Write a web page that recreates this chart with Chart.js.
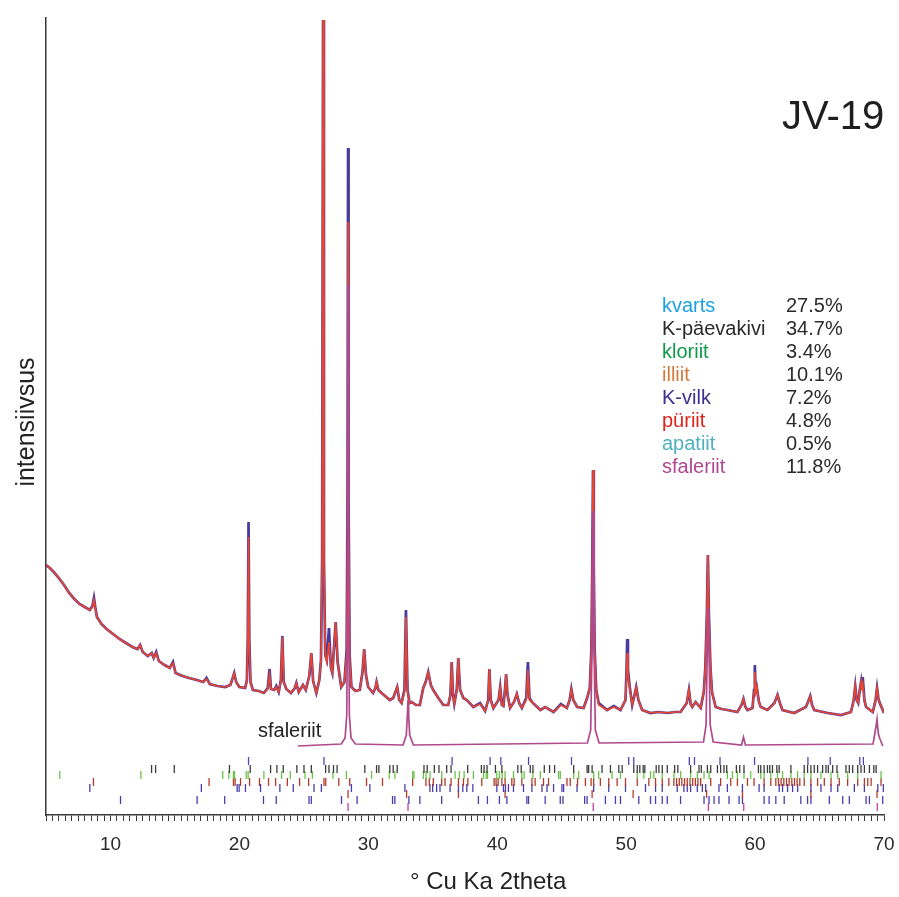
<!DOCTYPE html>
<html>
<head>
<meta charset="utf-8">
<title>JV-19</title>
<script src="https://cdn.jsdelivr.net/npm/chart.js@4.4.1/dist/chart.umd.min.js"></script>
<style>
  html,body{margin:0;padding:0;background:#fff;}
  #wrap{width:899px;height:897px;}
</style>
</head>
<body>
<div id="wrap"><canvas id="xrd" width="899" height="897"></canvas></div>
<script>
// ======================================
// DATA
// ======================================
const sampleName = 'JV-19';

// measured (blue) and calculated (red) pattern, 2theta in degrees
const twoTheta = [
  5.00,5.30,5.60,6.00,6.40,6.80,7.20,7.60,8.00,8.40,8.60,8.72,8.82,8.95,9.30,9.70,
  10.20,10.70,11.20,11.70,12.10,12.30,12.50,12.90,13.20,13.35,13.55,13.75,14.20,14.60,14.85,15.05,
  15.60,16.10,16.70,17.20,17.45,17.70,18.30,18.90,19.30,19.48,19.60,19.75,20.00,20.45,20.58,20.65,
  20.71,20.77,20.86,21.05,21.50,21.90,22.20,22.34,22.45,22.70,22.86,23.05,23.22,23.33,23.44,23.64,
  24.00,24.30,24.42,24.60,24.93,25.15,25.42,25.58,25.72,25.97,26.20,26.33,26.42,26.49,26.56,26.66,
  26.78,26.95,27.10,27.21,27.35,27.47,27.62,27.90,28.15,28.32,28.39,28.43,28.47,28.55,28.69,29.00,
  29.34,29.55,29.68,29.82,29.99,30.37,30.55,30.64,30.78,31.03,31.67,31.93,32.24,32.40,32.58,32.80,
  32.92,33.04,33.20,33.36,33.70,34.00,34.26,34.45,34.65,34.85,35.04,35.43,35.82,36.20,36.37,36.47,
  36.57,36.67,36.86,36.98,37.12,37.37,37.64,38.15,38.67,39.06,39.30,39.39,39.50,39.70,40.10,40.23,
  40.36,40.48,40.60,40.69,40.80,41.00,41.30,41.52,41.70,41.91,42.25,42.38,42.50,42.69,43.34,43.72,
  44.37,44.94,45.40,45.62,45.75,45.90,46.20,46.70,46.97,47.18,47.30,47.37,47.43,47.49,47.56,47.68,
  47.87,48.52,49.04,49.56,49.95,50.03,50.08,50.14,50.28,50.47,50.65,50.78,50.95,51.24,51.89,52.50,
  53.19,53.80,54.22,54.70,54.87,55.00,55.13,55.39,55.78,56.02,56.14,56.26,56.34,56.42,56.54,56.66,
  56.94,57.40,57.85,58.63,58.95,59.10,59.25,59.41,59.80,59.92,59.98,60.05,60.13,60.30,60.44,60.96,
  61.50,61.74,61.95,62.13,63.03,63.94,64.10,64.28,64.42,64.59,65.63,66.66,67.44,67.65,67.77,67.88,
  68.00,68.12,68.22,68.28,68.35,68.48,68.61,69.13,69.35,69.46,69.56,69.64,70.00
];

const measured = [
  250,247,243,237,230,222,216,211,208,205,209,217,208,198,191,186,
  181,176,172,168,166,170,163,159,162,157,163,154,150,147,153,142,
  139,137,135,133,137,131,129,128,130,137,142,133,128,127,135,175,
  293,175,133,125,124,122,127,146,126,125,129,123,135,179,133,126,
  122,127,132,123,130,125,139,162,134,122,135,155,255,795,255,160,
  155,187,147,142,170,193,153,128,133,165,315,667,315,160,128,124,
  125,143,166,140,128,122,127,133,125,122,115,117,128,115,112,125,
  205,125,112,113,110,110,127,133,143,130,125,117,110,110,120,153,
  120,111,125,157,125,117,115,108,112,104,115,146,115,107,115,128,
  110,109,125,141,120,107,113,121,112,107,117,153,117,113,105,108,
  103,111,107,115,126,115,108,107,117,127,165,245,345,245,165,125,
  112,105,109,105,115,145,176,145,128,110,120,128,115,105,102,103,
  102,103,103,112,125,111,108,113,107,123,147,200,260,200,147,123,
  108,106,105,103,110,116,108,105,107,125,150,125,128,113,108,105,
  112,120,111,105,102,108,113,119,110,105,102,100,103,115,129,115,
  112,125,133,125,138,115,108,103,115,127,117,113,102
];

const calculated = [
  250,247,243,237,230,222,216,211,208,205,208,215,207,198,191,186,
  181,176,172,168,166,170,163,159,162,157,162,154,150,147,152,142,
  139,137,135,133,136,131,129,128,130,137,142,133,128,127,134,170,
  278,170,133,125,124,122,126,140,126,125,128,123,135,178,133,126,
  122,127,132,123,130,125,139,162,134,122,135,155,255,795,255,160,
  153,173,147,142,170,193,153,128,133,160,275,593,275,157,128,124,
  125,143,166,140,128,122,127,133,125,122,115,117,128,115,112,123,
  198,123,112,113,110,110,127,133,143,130,125,117,110,110,120,153,
  120,111,125,157,125,117,115,108,111,104,115,146,115,107,115,128,
  110,109,125,141,120,107,113,121,112,107,115,145,115,113,105,108,
  103,110,107,115,126,115,108,107,117,127,165,245,345,245,165,125,
  110,105,108,105,115,140,162,140,127,110,120,128,115,105,102,103,
  102,103,103,112,125,111,108,113,107,123,147,200,260,200,147,123,
  108,106,105,103,110,116,108,105,107,123,143,123,128,113,108,105,
  112,120,111,105,102,108,113,119,110,105,102,100,103,115,129,115,
  112,125,133,125,131,115,108,103,115,127,117,113,102
];

// sphalerite reference profile, drawn below the pattern
const sphaleriteTheta = [
  24.54,27.90,28.20,28.33,28.39,28.43,28.47,28.53,28.66,29.00,32.70,32.95,33.03,33.08,33.13,33.21,
  33.50,47.00,47.25,47.36,47.43,47.50,47.61,47.90,56.00,56.20,56.30,56.35,56.41,56.52,56.75,58.95,
  59.10,59.25,69.15,69.36,69.46,69.55,69.66,69.90
];
const sphaleriteProfile = [
  69,71,77,100,215,530,215,100,77,71,70,80,100,115,100,80,
  70,72,85,175,304,175,85,72,73,90,175,207,175,90,73,70,
  78,70,71,87,96,82,77,69
];

// phase table
const phaseNames = ['kvarts','K-päevakivi','kloriit','illiit','K-vilk','püriit','apatiit','sfaleriit'];
const phaseShares = ['27.5%','34.7%','3.4%','10.1%','7.2%','4.8%','0.5%','11.8%'];

// reflection positions (2theta) for each phase
const quartzRefl = [20.71,26.56,36.50,39.45,40.28,42.43,45.76,50.20,50.59,54.90,55.30,57.28,59.96,64.10,65.83,68.12,68.40];
const feldsparRefl = [13.19,13.50,14.95,19.23,20.84,22.42,22.91,23.40,24.46,25.01,25.58,26.69,26.95,27.30,27.58,
  29.73,30.64,30.82,31.67,31.93,32.24,34.32,34.57,35.12,35.48,36.08,36.42,37.71,38.77,38.98,39.21,39.86,40.36,
  41.60,41.86,42.56,42.77,43.65,44.06,44.45,45.93,46.97,47.09,47.36,48.13,48.78,49.43,49.69,50.59,50.86,51.06,
  51.32,51.45,52.33,52.54,52.80,53.19,53.76,54.01,55.00,55.65,55.83,56.30,56.56,57.08,57.33,57.59,57.80,58.55,
  58.81,59.14,60.26,60.44,60.70,60.96,61.14,61.35,61.69,61.87,62.78,63.81,64.07,64.33,64.59,64.85,65.24,65.50,
  65.68,66.02,66.35,67.05,67.31,67.57,67.96,68.22,68.48,68.87,69.21,69.39];
const chloriteRefl = [6.07,12.36,18.71,19.18,19.54,19.62,20.53,20.68,21.90,23.27,23.95,25.09,25.66,27.26,28.30,
  30.25,31.62,32.06,33.44,33.54,34.27,34.48,34.79,35.70,36.73,37.07,37.43,38.15,38.93,39.14,39.25,39.97,40.17,
  40.38,40.61,41.26,41.91,42.09,42.77,43.34,44.76,44.89,45.93,46.32,47.48,47.87,48.91,49.56,50.86,51.37,51.89,
  52.15,52.80,53.71,54.23,55.00,55.52,56.04,56.43,57.85,58.24,58.63,59.14,59.66,60.44,60.70,61.22,61.74,62.13,
  62.78,63.30,63.81,64.33,65.11,65.89,66.41,67.18,67.96,69.77];
const illiteRefl = [8.68,17.65,19.54,19.67,20.09,20.79,21.56,22.26,22.81,23.72,24.67,25.37,26.56,26.70,27.71,
  28.56,29.86,31.10,33.44,34.47,34.73,35.04,35.69,35.95,36.42,36.99,37.38,37.72,38.80,39.76,39.91,40.07,40.36,
  40.61,41.13,41.31,41.91,42.69,42.94,43.59,43.98,45.41,45.66,46.23,46.84,47.28,47.48,48.00,48.65,49.30,49.95,
  50.86,51.76,52.28,52.80,53.31,53.70,53.91,54.12,54.32,54.53,54.74,54.95,55.16,55.37,55.57,55.78,56.56,57.33,
  58.11,58.63,59.41,59.92,60.70,61.22,61.61,61.82,62.02,62.23,62.44,62.64,62.85,63.06,63.26,63.47,63.81,64.33,
  64.85,65.37,65.89,66.53,67.18,67.96,68.48,68.74,69.00,69.77];
const micaRefl = [8.40,17.05,19.83,19.98,20.47,21.64,23.14,24.18,25.79,26.36,28.69,30.12,32.84,34.78,34.99,35.30,
  35.56,36.34,36.99,37.33,37.64,38.11,39.97,40.48,40.64,40.87,41.26,42.04,42.69,43.47,43.86,44.37,45.02,45.15,
  46.19,47.48,48.65,49.95,51.50,52.28,52.80,53.96,54.48,54.74,55.00,55.52,55.91,56.17,57.20,57.85,59.02,60.31,
  60.70,61.87,62.13,62.52,62.91,63.30,64.33,65.11,65.89,66.41,67.70,68.48,69.52,69.95];
const pyriteRefl = [28.43,32.97,36.99,40.61,47.36,50.54,56.24,59.02,64.33,69.46];
const apatiteRefl = [10.78,16.72,18.86,21.87,22.86,25.40,25.58,27.92,29.13,31.88,32.06,33.15,34.00,35.69,38.54,
  39.24,40.17,40.75,42.30,42.43,43.72,44.89,45.10,46.78,46.97,48.39,49.17,49.56,50.98,51.89,52.28,52.80,53.19,
  54.22,56.04,56.43,56.82,57.20,57.98,58.76,59.02,60.70,61.09,61.61,62.26,63.55,64.07,64.33,65.76,66.80,67.31,
  68.61,68.87,69.90];
const sphaleriteRefl = [28.43,33.08,47.45,56.38,59.12,69.48];

// ======================================
// STYLE
// ======================================
const FONT = '"Liberation Sans", Arial, Helvetica, sans-serif';
Chart.defaults.font.family = FONT;

const legendColors = ['#1ba1e2','#2b2b2b','#0f9a4a','#d27a3c','#3b2f8f','#e2231a','#4fb0bf','#b0478f'];

// tick rows under the pattern: reflections, colour, row height (intensity units)
const reflRows = [
  {refl: quartzRefl,     color: '#5546b0', level: 54},
  {refl: feldsparRefl,   color: '#3c3c3c', level: 46},
  {refl: chloriteRefl,   color: '#6cc24a', level: 40},
  {refl: illiteRefl,     color: '#b23a28', level: 33},
  {refl: micaRefl,       color: '#4a3cae', level: 27},
  {refl: pyriteRefl,     color: '#c0392b', level: 21},
  {refl: apatiteRefl,    color: '#4a3cae', level: 15},
  {refl: sphaleriteRefl, color: '#c8409e', level: 8}
];

const toPoints = (xs, ys) => xs.map((x, i) => ({x: x, y: ys[i]}));

const tickDatasets = reflRows.map(r => ({
  data: r.refl.map(x => ({x: x, y: r.level})),
  showLine: false,
  pointStyle: 'line',
  rotation: 90,
  pointRadius: 4,
  pointBorderWidth: 1.3,
  borderColor: r.color,
  backgroundColor: r.color
}));

// ======================================
// TEXT
// ======================================
const annotations = {
  id: 'annotations',
  afterDraw(chart){
    const c = chart.ctx;
    c.save();
    c.textBaseline = 'alphabetic';
    c.textAlign = 'left';

    c.fillStyle = '#1e1e1e';
    c.font = '40px ' + FONT;
    c.fillText(sampleName, 782, 129);

    c.font = '20px ' + FONT;
    phaseNames.forEach((name, i) => {
      const y = 312 + i * 23;
      c.fillStyle = legendColors[i];
      c.fillText(name, 662, y);
      c.fillStyle = '#2b2b2b';
      c.fillText(phaseShares[i], 786, y);
    });

    c.fillStyle = '#222';
    c.fillText('sfaleriit', 258, 737);

    c.font = '24px ' + FONT;
    c.fillText('° Cu Ka 2theta', 410, 889);

    // y axis title
    c.translate(27, 422);
    c.rotate(-Math.PI / 2);
    c.textAlign = 'center';
    c.textBaseline = 'middle';
    c.font = '25px ' + FONT;
    c.fillText('intensiivsus', 0, 0);
    c.restore();
  }
};

// ======================================
// CHART
// ======================================
const ctx = document.getElementById('xrd');

new Chart(ctx, {
  type: 'scatter',
  data: {
    datasets: [
      {
        label: 'sfaleriit',
        data: toPoints(sphaleriteTheta, sphaleriteProfile),
        showLine: true,
        borderColor: '#b04a8c',
        borderWidth: 1.7,
        pointRadius: 0
      },
      {
        label: 'calculated',
        data: toPoints(twoTheta, calculated),
        showLine: true,
        borderColor: '#e8462f',
        borderWidth: 1.7,
        pointRadius: 0
      },
      {
        label: 'measured',
        data: toPoints(twoTheta, measured),
        showLine: true,
        borderColor: '#4a3a9e',
        borderWidth: 2.7,
        pointRadius: 0
      },
      ...tickDatasets
    ]
  },
  options: {
    responsive: false,
    animation: false,
    events: [],
    layout: {padding: {top: 18, right: 15, left: 0, bottom: 0}},
    plugins: {
      legend: {display: false},
      tooltip: {enabled: false}
    },
    scales: {
      x: {
        type: 'linear',
        min: 5,
        max: 70,
        afterFit: s => { s.height = 82; s.paddingLeft = 0; s.paddingRight = 0; },
        border: {display: true, color: '#3a3a3a', width: 1.5},
        grid: {display: true, drawOnChartArea: false, drawTicks: true, tickLength: 6, tickColor: '#3a3a3a', tickWidth: 1},
        ticks: {
          stepSize: 0.5,
          autoSkip: false,
          maxRotation: 0,
          padding: 12,
          color: '#2a2a2a',
          font: {size: 19},
          callback: v => (Math.abs(v % 10) < 1e-6 ? v : '')
        }
      },
      y: {
        type: 'linear',
        min: 0,
        max: 797,
        afterFit: s => { s.width = 46; },
        border: {display: true, color: '#3a3a3a', width: 1.5},
        grid: {display: false},
        ticks: {display: false}
      }
    }
  },
  plugins: [annotations]
});
</script>
</body>
</html>
